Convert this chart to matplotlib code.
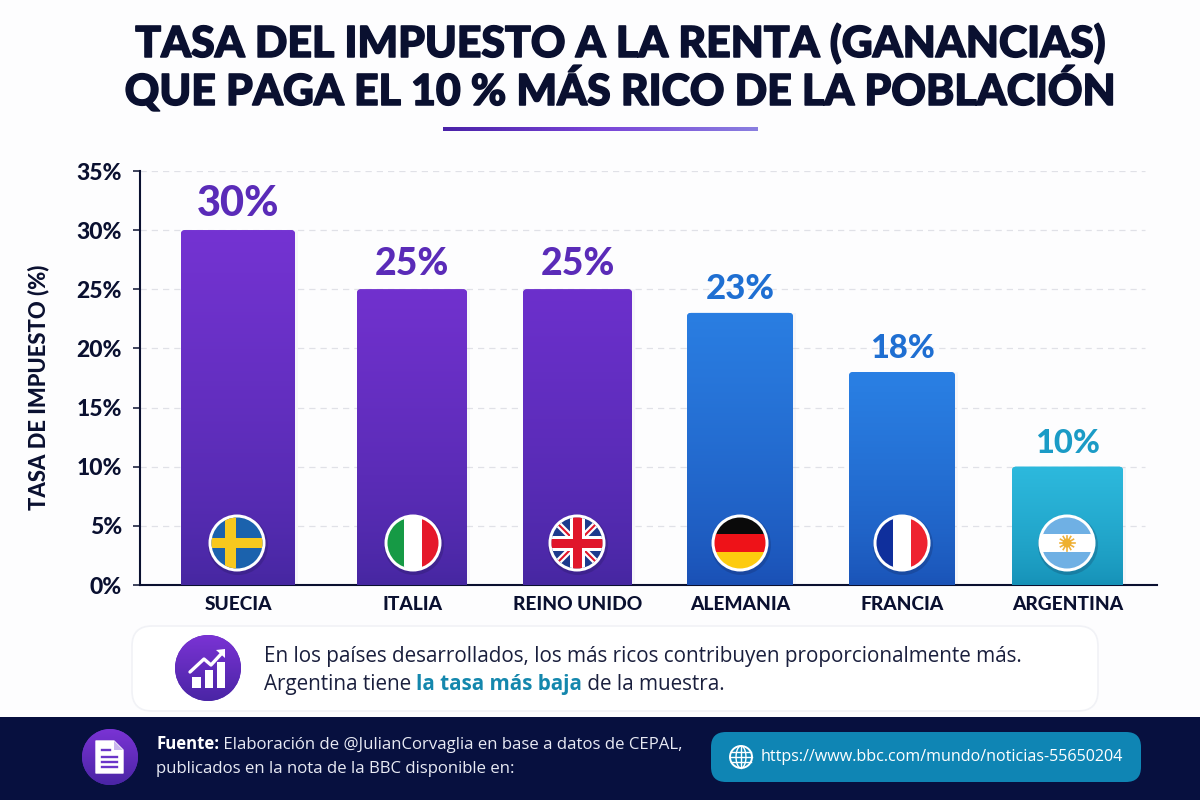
import numpy as np
import matplotlib
matplotlib.use('Agg')
import matplotlib.pyplot as plt
import matplotlib.patheffects as pe
from matplotlib.colors import LinearSegmentedColormap
from matplotlib.patches import Circle, FancyBboxPatch, Polygon, Rectangle

countries = ['SUECIA', 'ITALIA', 'REINO UNIDO', 'ALEMANIA', 'FRANCIA', 'ARGENTINA']
rates = [30, 25, 25, 23, 18, 10]
y_ticks = [0, 5, 10, 15, 20, 25, 30, 35]

# bar layout in pixels, the bars are not evenly spaced
bar_left = [181, 357, 523, 687, 849, 1012]
bar_right = [295, 467, 632, 793, 955, 1123]
bar_tops = ['#7433d2', '#7131ce', '#6c30cc', '#2a7ee2', '#2a80e4', '#2db9dd']
bar_bottoms = ['#4527a0', '#4527a0', '#4527a0', '#1a4fb4', '#1a52b6', '#1590b6']
label_colors = ['#5a2bb8', '#5a2bb8', '#5a2bb8', '#1f6fd2', '#1f6fd2', '#1b9bc6']
label_sizes = [30, 27, 27, 25, 23.5, 23.5]

NAVY = '#0a1030'
BODY = 'Open Sans'
HEAD = 'Lato'

fig = plt.figure(figsize=(12, 8), dpi=100, facecolor='#fdfdfe')

# overlay in pixel coordinates for everything around the chart
deco = fig.add_axes([0, 0, 1, 1], zorder=0)
deco.set_xlim(0, 1200)
deco.set_ylim(800, 0)
deco.axis('off')

top = fig.add_axes([0, 0, 1, 1], zorder=5)
top.set_xlim(0, 1200)
top.set_ylim(800, 0)
top.axis('off')
top.patch.set_alpha(0)

# title, thickened a little with a stroke
for y, line in [(57, 'TASA DEL IMPUESTO A LA RENTA (GANANCIAS)'),
                (105, 'QUE PAGA EL 10 % MÁS RICO DE LA POBLACIÓN')]:
    deco.text(620, y, line, ha='center', va='baseline', fontsize=30.8,
              fontweight=900, color=NAVY, family=HEAD,
              path_effects=[pe.withStroke(linewidth=1.1, foreground=NAVY)])

rule = LinearSegmentedColormap.from_list('rule', ['#4a22a8', '#7a45d8', '#8a7fe0'])
deco.imshow(np.linspace(0, 1, 256).reshape(1, -1), cmap=rule, aspect='auto',
            extent=(443, 758, 131, 127.5))
deco.set_xlim(0, 1200)
deco.set_ylim(800, 0)

# main chart
X0, X1 = 140, 1157
ax = fig.add_axes([X0 / 1200, 1 - 585 / 800, (X1 - X0) / 1200, (585 - 171) / 800], zorder=2)
ax.patch.set_alpha(0)
ax.set_xlim(X0, X1)
ax.set_ylim(0, 35)
ax.set_yticks(y_ticks)
ax.set_yticklabels([f'{t}%' for t in y_ticks], fontsize=16.5, fontweight=900,
                   color=NAVY, family=HEAD)
ax.hlines(y_ticks[1:], X0, 1145, color='#e0e1e7', linestyle=(0, (5, 4)), linewidth=0.9, zorder=1)
for s in ['top', 'right']:
    ax.spines[s].set_visible(False)
ax.spines['left'].set_color(NAVY)
ax.spines['left'].set_linewidth(1.5)
ax.spines['bottom'].set_color(NAVY)
ax.spines['bottom'].set_linewidth(1.5)
ax.tick_params(axis='y', length=5, width=1.1, color=NAVY, pad=8)

centers = [(a + b) / 2 for a, b in zip(bar_left, bar_right)]
widths = [b - a for a, b in zip(bar_left, bar_right)]
ax.set_xticks(centers)
ax.set_xticklabels(countries, fontsize=13.8, fontweight=900, color=NAVY, family=HEAD)
ax.tick_params(axis='x', length=0, pad=8)

grad = (np.linspace(1, 0, 256) ** 0.7).reshape(-1, 1)
y_per_px = 35 / (585 - 171)
for i, val in enumerate(rates):
    # soft edge on the right of each bar
    ax.bar(centers[i] + 3, val, widths[i], color='#8080a0', alpha=0.05, zorder=2)
    # rounded top corners, the lower ones fall below the axis and get cut off
    bar = FancyBboxPatch((bar_left[i], -1), widths[i], val + 1,
                         boxstyle='round,pad=0,rounding_size=4', mutation_aspect=y_per_px,
                         fc=bar_tops[i], ec='none', zorder=3)
    ax.add_patch(bar)
    cmap = LinearSegmentedColormap.from_list(f'b{i}', [bar_bottoms[i], bar_tops[i]])
    im = ax.imshow(grad, cmap=cmap, aspect='auto', zorder=3.5,
                   extent=(bar_left[i], bar_right[i], 0, val))
    im.set_clip_path(bar)
    ax.annotate(f'{val}%', (centers[i], val), xytext=(0, 10), textcoords='offset points',
                ha='center', va='baseline', fontsize=label_sizes[i], fontweight=900,
                color=label_colors[i], family=HEAD)
ax.set_xlim(X0, X1)
ax.set_ylim(0, 35)

deco.text(38, 387, 'TASA DE IMPUESTO (%)', rotation=90, ha='center', va='center',
          fontsize=15.8, fontweight=900, color=NAVY, family=HEAD)


def flag_base(cx, cy, r=28.5):
    top.add_patch(Circle((cx + 1, cy + 2), r + 1.5, color='#101030', alpha=0.18, lw=0))
    top.add_patch(Circle((cx, cy), r, color='white', lw=0))
    return Circle((cx, cy), r - 3, transform=top.transData)


def clipped(patch, clip, zorder=1):
    top.add_patch(patch)
    patch.set_clip_path(clip)
    patch.set_zorder(zorder)
    return patch


def stripes_h(cx, cy, clip, colors, r=26):
    h = 2 * r / len(colors)
    for i, c in enumerate(colors):
        clipped(Rectangle((cx - r, cy - r + i * h), 2 * r, h + 0.3, color=c, lw=0), clip)


def stripes_v(cx, cy, clip, colors, r=26):
    w = 2 * r / len(colors)
    for i, c in enumerate(colors):
        clipped(Rectangle((cx - r + i * w, cy - r), w + 0.3, 2 * r, color=c, lw=0), clip)


def flag_sweden(cx, cy):
    clip = flag_base(cx, cy)
    clipped(Rectangle((cx - 26, cy - 26), 52, 52, color='#1b62ad', lw=0), clip)
    clipped(Rectangle((cx - 26, cy - 5), 52, 10, color='#f7c81e', lw=0), clip, 2)
    clipped(Rectangle((cx - 12, cy - 26), 11, 52, color='#f7c81e', lw=0), clip, 2)


def flag_uk(cx, cy):
    clip = flag_base(cx, cy)
    clipped(Rectangle((cx - 26, cy - 26), 52, 52, color='#1d3a8c', lw=0), clip)
    for sign in (1, -1):
        for col, w in (('white', 4.6), ('#e0162b', 1.5)):
            l, = top.plot([cx - 26, cx + 26], [cy - 26 * sign, cy + 26 * sign], color=col, lw=w,
                          solid_capstyle='butt', zorder=2)
            l.set_clip_path(clip)
    clipped(Rectangle((cx - 26, cy - 7.5), 52, 15, color='white', lw=0), clip, 3)
    clipped(Rectangle((cx - 7.5, cy - 26), 15, 52, color='white', lw=0), clip, 3)
    clipped(Rectangle((cx - 26, cy - 4.5), 52, 9, color='#e0162b', lw=0), clip, 4)
    clipped(Rectangle((cx - 4.5, cy - 26), 9, 52, color='#e0162b', lw=0), clip, 4)


def flag_argentina(cx, cy):
    clip = flag_base(cx, cy)
    stripes_h(cx, cy, clip, ['#6fb0e4', 'white', '#6fb0e4'])
    for a in np.arange(0, 360, 30):
        ca, sa = np.cos(np.radians(a)), np.sin(np.radians(a))
        top.plot([cx + 4 * ca, cx + 7.5 * ca], [cy + 4 * sa, cy + 7.5 * sa], color='#efb23c', lw=1.2, zorder=2)
    top.add_patch(Circle((cx, cy), 4.5, color='#eeb02f', lw=0, zorder=3))


flag_sweden(237, 543)
clip = flag_base(413, 543)
stripes_v(413, 543, clip, ['#169a45', 'white', '#e5182a'])
flag_uk(577, 543)
clip = flag_base(740, 543)
stripes_h(740, 543, clip, ['#0a0a0a', '#ee1218', '#fdcb0e'])
clip = flag_base(902, 543)
stripes_v(902, 543, clip, ['#0f2f9c', 'white', '#ee2230'])
flag_argentina(1067, 543)

# note card
deco.add_patch(FancyBboxPatch((132, 626), 966, 85, boxstyle='round,pad=0,rounding_size=20',
                              fc='white', ec='#f1f2f6', lw=1.2))


def purple_disc(cx, cy, r):
    disc = Circle((cx, cy), r, color='#5a2bb8', lw=0)
    top.add_patch(disc)
    cm = LinearSegmentedColormap.from_list('disc', ['#4a25a5', '#7a33d4'])
    im = top.imshow(np.linspace(1, 0, 128).reshape(-1, 1), cmap=cm, aspect='auto',
                    extent=(cx - r, cx + r, cy + r, cy - r), zorder=1)
    im.set_clip_path(disc)
    top.set_xlim(0, 1200)
    top.set_ylim(800, 0)


purple_disc(208, 668, 33)
for x0, w, y0 in [(192, 9, 677), (205, 8, 670), (217, 8, 662)]:
    top.add_patch(Rectangle((x0, y0), w, 688 - y0, color='white', lw=0, zorder=2))
top.plot([190, 204, 211, 222], [672, 659, 665, 653], color='white', lw=2.4,
         solid_capstyle='round', zorder=2)
top.add_patch(Polygon([[216, 650], [225, 649], [225, 658]], color='white', lw=0, zorder=2))


def mixed_line(ax_, x, y, parts, size, family=BODY):
    # parts are (text, weight, color); each piece starts where the last one ended
    r = fig.canvas.get_renderer()
    for txt, weight, col in parts:
        ax_.text(x, y, txt, ha='left', va='baseline', fontsize=size, fontweight=weight,
                 color=col, family=family, zorder=3)
        # a plain text extent drops trailing spaces, measure with a marker
        probe = ax_.text(x, y, txt + '|', fontsize=size, fontweight=weight, family=family)
        bar_w = ax_.text(x, y, '|', fontsize=size, fontweight=weight, family=family)
        x += probe.get_window_extent(r).width - bar_w.get_window_extent(r).width
        probe.remove()
        bar_w.remove()


mixed_line(top, 264, 662, [('En los países desarrollados, los más ricos contribuyen proporcionalmente más.',
                            'normal', '#1a1f3d')], 14.9)
mixed_line(top, 264, 690, [('Argentina tiene ', 'normal', '#1a1f3d'),
                           ('la tasa más baja', 'bold', '#1487ad'),
                           (' de la muestra.', 'normal', '#1a1f3d')], 14.9)

# footer band
top.add_patch(Rectangle((0, 717), 1200, 83, color='#07103f', lw=0, zorder=0.5))
purple_disc(110, 757, 28)
top.add_patch(Polygon([[96, 741], [114, 741], [123, 750], [123, 773], [96, 773]],
                      closed=True, fc='white', ec='white', lw=1, joinstyle='round', zorder=2))
top.add_patch(Polygon([[114, 741], [123, 750], [114, 750]], color='#c9b6ee', lw=0, zorder=3))
for yy, x1 in [(750, 110), (757, 117), (762, 117), (767, 117)]:
    top.plot([102, x1], [yy, yy], color='#6a35c8', lw=1.7, zorder=3)

mixed_line(top, 156, 749, [('Fuente:', 'bold', 'white'),
                           (' Elaboración de @JulianCorvaglia en base a datos de CEPAL,', 'normal', '#e8eaf4')], 12.05)
mixed_line(top, 156, 773, [('publicados en la nota de la BBC disponible en:', 'normal', '#e8eaf4')], 12.05)

# link pill with globe
top.add_patch(FancyBboxPatch((711, 732), 430, 50, boxstyle='round,pad=0,rounding_size=15',
                             fc='#0f85b4', ec='none', zorder=1))
gx, gy, gr = 741, 757, 11
top.add_patch(Circle((gx, gy), gr, fc='none', ec='white', lw=1.4, zorder=2))
t = np.linspace(-np.pi / 2, np.pi / 2, 40)
top.plot(gx + gr * 0.45 * np.cos(t), gy + gr * np.sin(t), color='white', lw=1, zorder=2)
top.plot(gx - gr * 0.45 * np.cos(t), gy + gr * np.sin(t), color='white', lw=1, zorder=2)
top.plot([gx, gx], [gy - gr, gy + gr], color='white', lw=1, zorder=2)
for dy in (-5, 0, 5):
    half = np.sqrt(gr ** 2 - dy ** 2)
    top.plot([gx - half, gx + half], [gy + dy, gy + dy], color='white', lw=1, zorder=2)
top.text(761, 757, 'https://www.bbc.com/mundo/noticias-55650204', ha='left', va='center',
         fontsize=11.6, color='white', family=BODY, zorder=3)

fig.savefig('out.png', dpi=100, facecolor=fig.get_facecolor())
